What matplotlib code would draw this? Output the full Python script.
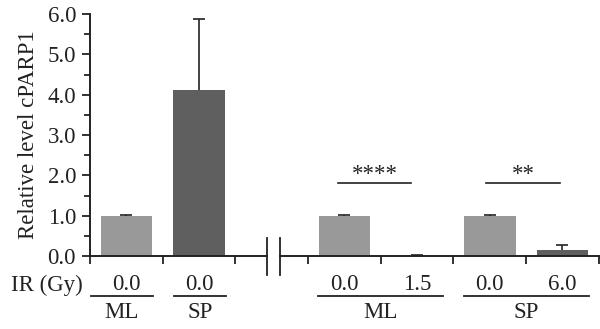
import matplotlib
matplotlib.use('Agg')
import matplotlib.pyplot as plt
from matplotlib.transforms import blended_transform_factory
from matplotlib.ticker import MultipleLocator

plt.rcParams['font.family'] = ['Liberation Serif', 'DejaVu Serif']

# data
ir_labels = ['0.0', '0.0', '0.0', '1.5', '0.0', '6.0']
values = [1.0, 4.12, 1.0, 0.01, 1.0, 0.15]
errors = [0.02, 1.75, 0.02, 0.01, 0.02, 0.12]
bar_colors = ['#999999', '#5f5f5f', '#999999', '#5f5f5f', '#999999', '#5f5f5f']
positions = [0.5, 1.5, 3.5, 4.5, 5.5, 6.5]
group_labels = ['ML', 'SP', 'ML', 'SP']
group_spans = [(0.01, 0.87), (1.16, 1.87), (3.14, 4.86), (5.14, 6.86)]
sig_marks = [('****', 3.41, 4.42, 1.81), ('**', 5.45, 6.47, 1.81)]

FS = 16.5
INK = '#222222'

fig = plt.figure(figsize=(6.0, 3.29), dpi=100)
ax = fig.add_axes([0.15, 0.222, 0.848, 0.735])

ax.bar(positions, values, width=0.71, color=bar_colors, zorder=2)
eb = ax.errorbar(positions, values, yerr=[[0] * len(errors), errors], fmt='none',
                 ecolor=INK, elinewidth=1.2, capsize=4.5, capthick=1.2, zorder=3)
# upper error only: hide the lower caps
eb[1][0].set_visible(False)

ax.set_xlim(0, 7)
ax.set_ylim(0, 6)
ax.yaxis.set_minor_locator(MultipleLocator(0.5))
ax.set_yticks([0, 1, 2, 3, 4, 5, 6])
ax.set_yticklabels(['0.0', '1.0', '2.0', '3.0', '4.0', '5.0', '6.0'])
ax.set_xticks(range(0, 8))
ax.set_xticklabels([])
ax.tick_params(axis='both', which='major', direction='out', length=6, width=1.3,
               color=INK, labelsize=FS, labelcolor=INK)
ax.tick_params(axis='y', which='minor', direction='out', length=4, width=1.3, color=INK)
ax.tick_params(axis='y', pad=4)

for s in ['top', 'right', 'bottom']:
    ax.spines[s].set_visible(False)
ax.spines['left'].set_linewidth(1.4)
ax.spines['left'].set_color(INK)

ax.set_ylabel('Relative level cPARP1', fontsize=FS, color=INK, labelpad=6)

tr = blended_transform_factory(ax.transData, ax.transAxes)

# broken x axis
ax.plot([0, 2.44], [0, 0], transform=tr, color=INK, lw=1.4, clip_on=False, zorder=4)
ax.plot([2.62, 7], [0, 0], transform=tr, color=INK, lw=1.4, clip_on=False, zorder=4)
for xb in (2.44, 2.62):
    ax.plot([xb, xb], [-0.079, 0.074], transform=tr, color=INK, lw=1.3, clip_on=False)

# labels below axis
ax.text(-0.59, -0.12, 'IR (Gy)', transform=tr, ha='center', va='center',
        fontsize=FS, color=INK)
for x, lab in zip(positions, ir_labels):
    ax.text(x, -0.12, lab, transform=tr, ha='center', va='center',
            fontsize=FS, color=INK)
for lab, (x0, x1) in zip(group_labels, group_spans):
    ax.plot([x0, x1], [-0.165, -0.165], transform=tr, color=INK, lw=1.3, clip_on=False)
    ax.text((x0 + x1) / 2, -0.235, lab, transform=tr, ha='center', va='center',
            fontsize=FS, color=INK)

# significance
for stars, x0, x1, y in sig_marks:
    ax.plot([x0, x1], [y, y], color=INK, lw=1.2)
    ax.text((x0 + x1) / 2, y - 0.04, stars, ha='center', va='bottom',
            fontsize=FS, color=INK)

fig.savefig('out.png', dpi=100)
